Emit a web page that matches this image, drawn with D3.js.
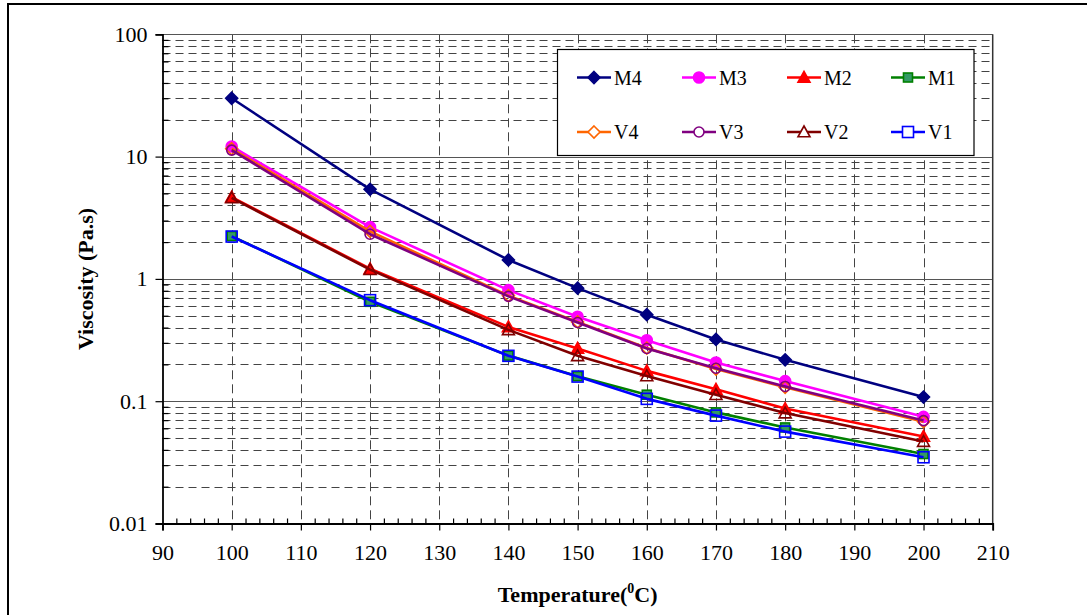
<!DOCTYPE html>
<html>
<head>
<meta charset="utf-8">
<script src="https://cdn.jsdelivr.net/npm/d3@7"></script>
<style>
  html, body { margin: 0; padding: 0; background: #fff; }
  svg { display: block; }
  text { font-family: "Liberation Serif", "Times New Roman", serif; }
</style>
</head>
<body>
<svg id="chart" width="1087" height="615"></svg>
<script>
// ---------------- data ----------------
const temps = [100, 120, 140, 150, 160, 170, 180, 200];
const M4 = [30, 5.4, 1.43, 0.84, 0.51, 0.32, 0.218, 0.108];
const M3 = [12.1, 2.65, 0.81, 0.49, 0.315, 0.207, 0.146, 0.0745];
const M2 = [4.66, 1.21, 0.405, 0.27, 0.177, 0.125, 0.087, 0.0515];
const M1 = [2.24, 0.65, 0.236, 0.16, 0.113, 0.081, 0.061, 0.037];
const V4 = [11.6, 2.45, 0.73, 0.445, 0.272, 0.183, 0.13, 0.068];
const V3 = [11.3, 2.32, 0.72, 0.44, 0.27, 0.186, 0.132, 0.0694];
const V2 = [4.6, 1.19, 0.383, 0.235, 0.161, 0.113, 0.08, 0.0468];
const V1 = [2.22, 0.67, 0.235, 0.159, 0.1045, 0.0762, 0.0564, 0.0348];

const seriesNames = ["M4", "M3", "M2", "M1", "V4", "V3", "V2", "V1"];
const seriesValues = [M4, M3, M2, M1, V4, V3, V2, V1];
const xTicks = [90, 100, 110, 120, 130, 140, 150, 160, 170, 180, 190, 200, 210];
const yTicks = [0.01, 0.1, 1, 10, 100];
const yTickLabels = ["0.01", "0.1", "1", "10", "100"];
const xTitle = "Temperature(";
const xTitleSup = "0";
const xTitleEnd = "C)";
const yTitle = "Viscosity (Pa.s)";

// ---------------- styles ----------------
const styles = {
  M4: { color: "#000080", shape: "diamond", fill: "#000080", size: 11 },
  M3: { color: "#FF00FF", shape: "circle", fill: "#FF00FF", size: 11 },
  M2: { color: "#FF0000", shape: "triangle", fill: "#FF0000", size: 11 },
  M1: { color: "#008000", shape: "square", fill: "#339966", size: 9 },
  V4: { color: "#FF6600", shape: "diamond", fill: "none", size: 11 },
  V3: { color: "#800080", shape: "circle", fill: "none", size: 10 },
  V2: { color: "#800000", shape: "triangle", fill: "none", size: 11 },
  V1: { color: "#0000FF", shape: "square", fill: "none", size: 11 }
};

const svg = d3.select("#chart");
const L = 162.5, R = 992.7, T = 34.3, B = 523.5;

const x = d3.scaleLinear().domain([90, 210]).range([L, R]);
const y = d3.scaleLog().domain([0.01, 100]).range([B, T]);

// outer border
svg.append("rect").attr("x", 8).attr("y", 4).attr("width", 1100).attr("height", 640)
  .attr("fill", "none").attr("stroke", "#000").attr("stroke-width", 2);

const grid = svg.append("g");
// minor horizontal dashed gridlines
const minorY = [];
for (let d = 0.01; d < 100; d *= 10) {
  for (let k = 2; k <= 9; k++) minorY.push(+(d * k).toPrecision(3));
}
grid.selectAll("line.hminor").data(minorY).join("line")
  .attr("x1", L).attr("x2", R)
  .attr("y1", d => Math.round(y(d)) + 0.5).attr("y2", d => Math.round(y(d)) + 0.5)
  .attr("stroke", "#444").attr("stroke-width", 1).attr("stroke-dasharray", "8,5");
// vertical dashed gridlines
grid.selectAll("line.vgrid").data(xTicks.slice(1, -1)).join("line")
  .attr("x1", d => Math.round(x(d)) + 0.5).attr("x2", d => Math.round(x(d)) + 0.5)
  .attr("y1", T).attr("y2", B)
  .attr("stroke", "#444").attr("stroke-width", 1).attr("stroke-dasharray", "9,5");
// major horizontal solid gridlines
grid.selectAll("line.hmajor").data(yTicks.slice(1)).join("line")
  .attr("x1", L).attr("x2", R)
  .attr("y1", d => Math.round(y(d)) + 0.5).attr("y2", d => Math.round(y(d)) + 0.5)
  .attr("stroke", "#555").attr("stroke-width", 1.2);
// right border
grid.append("line").attr("x1", R).attr("x2", R).attr("y1", T).attr("y2", B)
  .attr("stroke", "#333").attr("stroke-width", 1.5);

// axes
const yAxisMajor = d3.axisLeft(y).tickValues(yTicks)
  .tickFormat((d, i) => yTickLabels[i]).tickSize(7).tickPadding(8);
const gy = svg.append("g").attr("transform", `translate(${L},0)`).call(yAxisMajor);
const yAxisMinor = d3.axisLeft(y).tickValues(minorY).tickFormat("").tickSize(-6).tickSizeOuter(0);
svg.append("g").attr("transform", `translate(${L},0)`).call(yAxisMinor)
  .call(g => g.select(".domain").remove());

const xMinor = d3.range(90, 211, 2).filter(v => v % 10 !== 0);
const xAxisMajor = d3.axisBottom(x).tickValues(xTicks).tickFormat(d3.format("d"))
  .tickSize(7).tickPadding(14);
const gx = svg.append("g").attr("transform", `translate(0,${B})`).call(xAxisMajor);
const xAxisMinor = d3.axisBottom(x).tickValues(xMinor).tickFormat("").tickSize(-5).tickSizeOuter(0);
svg.append("g").attr("transform", `translate(0,${B})`).call(xAxisMinor)
  .call(g => g.select(".domain").remove());

svg.selectAll(".tick line").attr("stroke", "#000").attr("stroke-width", 1.2);
svg.selectAll(".domain").attr("stroke", "#000").attr("stroke-width", 1.8);
svg.selectAll(".tick text").attr("font-family", "Liberation Serif").attr("font-size", 22).attr("fill", "#000");

// axis titles
svg.append("text")
  .attr("transform", `translate(93,${(T + B) / 2}) rotate(-90)`)
  .attr("text-anchor", "middle").attr("font-size", 22).attr("font-weight", "bold")
  .text(yTitle);
const xt = svg.append("text").attr("x", (L + R) / 2).attr("y", 602)
  .attr("text-anchor", "middle").attr("font-size", 22).attr("font-weight", "bold");
xt.append("tspan").text(xTitle);
xt.append("tspan").attr("font-size", 14).attr("dy", -9).text(xTitleSup);
xt.append("tspan").attr("dy", 9).text(xTitleEnd);

// marker generator
function marker(sel, st) {
  const s = st.size;
  let el;
  if (st.shape === "circle") {
    el = sel.append("circle").attr("r", s / 2);
  } else if (st.shape === "square") {
    el = sel.append("rect").attr("x", -s / 2).attr("y", -s / 2).attr("width", s).attr("height", s);
  } else if (st.shape === "diamond") {
    const h = s / 2 + 0.5;
    el = sel.append("path").attr("d", `M0,${-h}L${h},0L0,${h}L${-h},0Z`);
  } else {
    const h = s / 2 + 0.5;
    el = sel.append("path").attr("d", `M0,${-h}L${h},${h * 0.8}L${-h},${h * 0.8}Z`);
  }
  el.attr("fill", st.fill).attr("stroke", st.color).attr("stroke-width", 1.6);
  return el;
}

const line = d3.line().x(d => x(d[0])).y(d => y(d[1]));
const plot = svg.append("g");
seriesNames.forEach((name, i) => {
  const st = styles[name];
  const pts = temps.map((t, j) => [t, seriesValues[i][j]]);
  const g = plot.append("g");
  g.append("path").attr("d", line(pts)).attr("fill", "none")
    .attr("stroke", st.color).attr("stroke-width", 2.6).attr("stroke-linejoin", "round");
  pts.forEach(p => {
    const m = g.append("g").attr("transform", `translate(${x(p[0])},${y(p[1])})`);
    marker(m, st);
  });
});

// legend
const lg = svg.append("g");
lg.append("rect").attr("x", 557.5).attr("y", 49.5).attr("width", 416.5).attr("height", 106)
  .attr("fill", "#fff").attr("stroke", "#000").attr("stroke-width", 1.2);
const colX = [577, 682, 787, 891];
const rowY = [77.5, 132];
seriesNames.forEach((name, i) => {
  const st = styles[name];
  const cx = colX[i % 4], cy = rowY[Math.floor(i / 4)];
  lg.append("line").attr("x1", cx).attr("x2", cx + 34).attr("y1", cy).attr("y2", cy)
    .attr("stroke", st.color).attr("stroke-width", 2.6);
  const m = lg.append("g").attr("transform", `translate(${cx + 17},${cy})`);
  const mk = marker(m, st);
  if (st.fill === "none") mk.attr("fill", "#fff");
  lg.append("text").attr("x", cx + 37).attr("y", cy + 7).attr("font-size", 20).text(name);
});
</script>
</body>
</html>
